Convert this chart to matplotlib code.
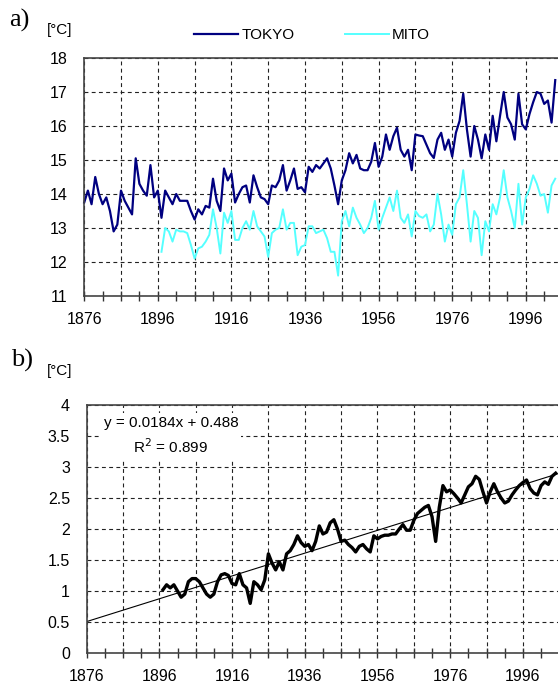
import matplotlib
matplotlib.use("Agg")
import matplotlib.pyplot as plt
import numpy as np

plt.rcParams["font.family"] = ["Liberation Sans", "DejaVu Sans"]

# annual mean temperature
tokyo_years = list(range(1876, 2005))
tokyo = [
    13.75, 14.1, 13.7, 14.5, 14.0, 13.7, 13.9, 13.5, 12.9, 13.1,
    14.1, 13.8, 13.6, 13.4, 15.05, 14.3, 14.1, 13.95, 14.85, 13.9,
    14.1, 13.3, 14.1, 13.9, 13.7, 14.0, 13.8, 13.8, 13.8, 13.5,
    13.25, 13.55, 13.4, 13.65, 13.6, 14.45, 13.8, 13.5, 14.75, 14.4,
    14.6, 13.75, 14.0, 14.2, 14.25, 13.75, 14.55, 14.2, 13.9, 13.85,
    13.7, 14.25, 14.2, 14.4, 14.85, 14.1, 14.4, 14.75, 14.15, 14.2,
    14.05, 14.8, 14.65, 14.85, 14.75, 14.9, 15.05, 14.75, 14.25, 13.7,
    14.4, 14.7, 15.2, 14.9, 15.15, 14.75, 14.7, 14.7, 14.95, 15.5,
    14.8, 15.1, 15.75, 15.3, 15.7, 15.95, 15.3, 15.1, 15.3, 14.7,
    15.75, 15.72, 15.7, 15.45, 15.2, 15.06, 15.6, 15.8, 15.3, 15.6,
    15.1, 15.8, 16.15, 16.95, 15.9, 15.1, 16.0, 15.6, 15.05, 15.75,
    15.3, 16.3, 15.55, 16.3, 17.0, 16.25, 16.05, 15.6, 16.95, 16.05,
    15.9, 16.35, 16.7, 17.0, 16.95, 16.65, 16.75, 16.1, 17.35,
]
mito_years = list(range(1897, 2005))
mito = [
    12.3, 13.0, 12.9, 12.6, 12.95, 12.9, 12.9, 12.85, 12.5, 12.1,
    12.4, 12.45, 12.6, 12.8, 13.55, 13.0, 12.25, 13.45, 13.15, 13.5,
    12.65, 12.65, 13.0, 13.2, 12.95, 13.5, 13.05, 12.9, 12.75, 12.15,
    12.85, 12.95, 13.0, 13.55, 12.95, 13.15, 13.15, 12.2, 12.45, 12.5,
    13.05, 13.05, 12.85, 12.9, 12.95, 12.7, 12.3, 12.3, 11.6, 13.2,
    13.5, 13.05, 13.6, 13.3, 13.1, 12.85, 13.0, 13.3, 13.8, 12.95,
    13.3, 13.6, 13.9, 13.5, 14.1, 13.3, 13.15, 13.4, 12.75, 13.5,
    13.35, 13.3, 13.4, 12.9, 13.1, 14.0, 13.4, 12.6, 13.1, 12.8,
    13.7, 13.9, 14.7, 13.7, 12.6, 13.5, 13.3, 12.2, 13.2, 12.9,
    13.7, 13.4, 13.9, 14.7, 13.9, 13.5, 13.0, 14.3, 13.1, 13.9,
    14.15, 14.55, 14.3, 13.95, 14.0, 13.45, 14.25, 14.45,
]

# Tokyo - Mito difference (smoothed)
diff_years = list(range(1897, 2006))
diff = [
    1.02, 1.1, 1.05, 1.1, 1.0, 0.9, 0.95, 1.15, 1.2, 1.2,
    1.15, 1.05, 0.95, 0.9, 0.95, 1.15, 1.26, 1.28, 1.25, 1.12,
    1.1, 1.28, 1.1, 1.05, 0.8, 1.15, 1.1, 1.02, 1.18, 1.6,
    1.45, 1.34, 1.47, 1.34, 1.6, 1.65, 1.75, 1.89, 1.78, 1.72,
    1.75, 1.65, 1.8, 2.05, 1.92, 1.95, 2.1, 2.15, 2.0, 1.8,
    1.82, 1.75, 1.7, 1.63, 1.72, 1.75, 1.68, 1.63, 1.89, 1.84,
    1.88, 1.9, 1.9, 1.92, 1.92, 2.0, 2.07, 1.98, 1.98, 2.14,
    2.25, 2.3, 2.35, 2.38, 2.2, 1.8, 2.35, 2.7, 2.6, 2.63,
    2.57, 2.5, 2.42, 2.55, 2.68, 2.73, 2.85, 2.8, 2.6, 2.42,
    2.6, 2.73, 2.6, 2.5, 2.42, 2.45, 2.55, 2.63, 2.7, 2.75,
    2.79, 2.65, 2.58, 2.55, 2.7, 2.76, 2.72, 2.85, 2.9,
]

# linear fit shown on the chart: y = 0.0184x + 0.488, x = 1 at 1876
slope, intercept = 0.0184, 0.488

x0, x1 = 1876, 2006

fig = plt.figure(figsize=(5.58, 6.86), dpi=100)


def style_axes(ax, ylim, ystep, ylabels):
    ax.set_xlim(x0, x1)
    ax.set_ylim(*ylim)
    major = np.arange(1876, x1 + 1, 10)
    ax.set_xticks(major)
    ax.set_xticklabels([str(y) if (y - 1876) % 20 == 0 else "" for y in major])
    ax.set_xticks(np.arange(1881, x1 + 1, 10), minor=True)
    yt = np.arange(ylim[0], ylim[1] + ystep / 2, ystep)
    ax.set_yticks(yt)
    ax.set_yticklabels(ylabels)
    ax.tick_params(axis="x", which="both", direction="inout", length=7,
                   width=1, color="#333333", labelsize=11.5, pad=8)
    ax.tick_params(axis="y", length=0, labelsize=11.5, pad=12)
    ax.grid(axis="x", which="major", color="#222222", linestyle=(0, (3.5, 3)), linewidth=0.8)
    ax.grid(axis="y", which="major", color="#222222", linestyle=(0, (3.5, 3)), linewidth=0.8)
    ax.set_axisbelow(True)
    for side in ["top", "left", "bottom"]:
        ax.spines[side].set_color("#444444")
        ax.spines[side].set_linewidth(1.2)
    ax.spines["right"].set_visible(False)


# panel a
ax1 = fig.add_axes([84.2 / 558, 1 - 296 / 686, 130 * 3.68 / 558, 238 / 686])
ax1.plot(tokyo_years, tokyo, color="#000080", linewidth=1.6, label="TOKYO", clip_on=False)
ax1.plot(mito_years, mito, color="#55ffff", linewidth=1.4, label="MITO", clip_on=False)
style_axes(ax1, (11, 18), 1, [str(v) for v in range(11, 19)])
fig.legend(loc="center", bbox_to_anchor=(312 / 558, 1 - 35 / 686), ncol=2,
           frameon=False, fontsize=11, handlelength=2.9, handletextpad=0.2,
           columnspacing=3.3)

# panel b
ax2 = fig.add_axes([86.6 / 558, 1 - 653 / 686, 130 * 3.636 / 558, 248 / 686])
trend_x = np.array([x0, x1])
ax2.plot(trend_x, slope * (trend_x - 1875) + intercept, color="black", linewidth=0.8)
ax2.plot(diff_years, diff, color="black", linewidth=2.4)
style_axes(ax2, (0, 4), 0.5, ["0", "0.5", "1", "1.5", "2", "2.5", "3", "3.5", "4"])
ax2.text(171 / 558, 1 - 436 / 686, "y = 0.0184x + 0.488\nR$^2$ = 0.899",
         transform=fig.transFigure, ha="center", va="center", fontsize=11,
         linespacing=1.5, bbox=dict(facecolor="white", edgecolor="none", pad=2))

# panel tags and units
fig.text(9 / 558, 1 - 20 / 686, "a)", family="Liberation Serif", fontsize=19, va="center")
fig.text(47 / 558, 1 - 30 / 686, "[°C]", fontsize=11, va="center")
fig.text(11 / 558, 1 - 360 / 686, "b)", family="Liberation Serif", fontsize=19, va="center")
fig.text(47 / 558, 1 - 371 / 686, "[°C]", fontsize=11, va="center")

fig.savefig("out.png", dpi=100)
